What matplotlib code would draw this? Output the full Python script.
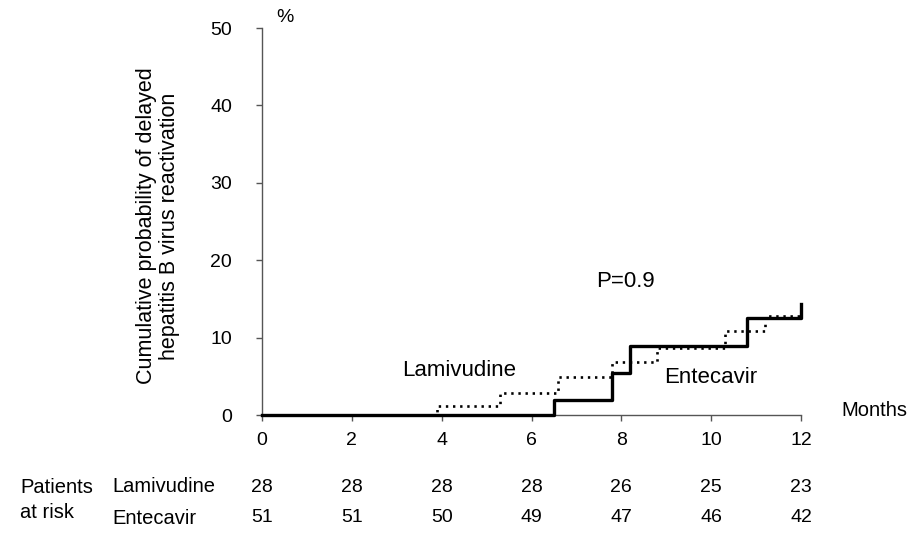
import matplotlib.pyplot as plt

plt.rcParams['font.family'] = ['Liberation Sans', 'DejaVu Sans']

# step curves (months, %)
lam_t = [0, 3.9, 5.3, 6.6, 7.8, 8.8, 10.3, 11.2, 12]
lam_p = [0, 1.1, 2.9, 4.9, 6.9, 8.7, 10.8, 12.8, 12.8]
ent_t = [0, 6.5, 7.8, 8.2, 10.8, 12, 12]
ent_p = [0, 1.9, 5.4, 8.9, 12.5, 12.5, 14.3]

months = [0, 2, 4, 6, 8, 10, 12]
risk_lam = [28, 28, 28, 28, 26, 25, 23]
risk_ent = [51, 51, 50, 49, 47, 46, 42]

fig = plt.figure(figsize=(9.17, 5.37), dpi=100)
ax = fig.add_axes([262 / 917, 1 - 415 / 537, 539 / 917, 387 / 537])

ax.plot(lam_t, lam_p, drawstyle='steps-post', color='black',
        linewidth=1.9, linestyle=(0, (0.9, 1.8)), zorder=2, clip_on=False)
ax.plot(ent_t, ent_p, drawstyle='steps-post', color='black',
        linewidth=2.4, zorder=3, clip_on=False)

ax.set_xlim(0, 12)
ax.set_ylim(0, 50)
ax.set_xticks(months)
ax.set_yticks([0, 10, 20, 30, 40, 50])
for s in ['top', 'right']:
    ax.spines[s].set_visible(False)
for s in ['left', 'bottom']:
    ax.spines[s].set_color('#555555')
    ax.spines[s].set_linewidth(1.0)
ax.tick_params(colors='#555555', labelcolor='black', labelsize=14,
               length=4.5, width=1.0)
ax.tick_params(axis='x', pad=8)
ax.tick_params(axis='y', pad=17)

ax.text(4.38, 5.7, 'Lamivudine', fontsize=16, ha='center', va='center')
ax.text(10.0, 4.9, 'Entecavir', fontsize=16, ha='center', va='center')
ax.text(8.1, 17.2, 'P=0.9', fontsize=16, ha='center', va='center')

fig.text(285 / 917, 1 - 17 / 537, '%', fontsize=14, ha='center', va='center')
fig.text(874 / 917, 1 - 410 / 537, 'Months', fontsize=14.5, ha='center', va='center')
fig.text(158 / 917, 1 - 226 / 537,
         'Cumulative probability of delayed\nhepatitis B virus reactivation',
         fontsize=15.5, rotation=90, ha='center', va='center', linespacing=1.15)

# patients at risk table
fig.text(20 / 917, 1 - 500 / 537, 'Patients\nat risk', fontsize=14.5,
         ha='left', va='center', linespacing=1.45)
fig.text(112 / 917, 1 - 487 / 537, 'Lamivudine', fontsize=14.5, ha='left', va='center')
fig.text(112 / 917, 1 - 518 / 537, 'Entecavir', fontsize=14.5, ha='left', va='center')
for m, a, b in zip(months, risk_lam, risk_ent):
    xf = (262 + m / 12 * 539) / 917
    fig.text(xf, 1 - 487 / 537, str(a), fontsize=14, ha='center', va='center')
    fig.text(xf, 1 - 518 / 537, str(b), fontsize=14, ha='center', va='center')

fig.savefig('out.png', dpi=100)
